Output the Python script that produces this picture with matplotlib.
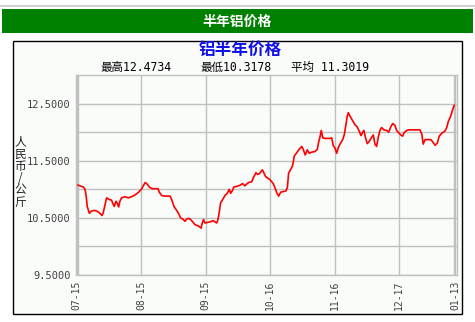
import matplotlib
matplotlib.use("Agg")
import matplotlib.pyplot as plt
from matplotlib.patches import Rectangle
from matplotlib.ticker import FixedLocator, NullFormatter

plt.rcParams["font.family"] = ["DejaVu Sans Mono", "Noto Sans CJK SC"]

# ---- 数据 ----
days = [0, 1.6, 3.2, 4.0, 4.5, 5.1, 6.1, 7.2, 8.3, 9.6, 10.9, 12.2, 12.8, 13.5, 14.4,
        15.7, 16.8, 17.3, 18.1, 18.9, 19.5, 20.2, 20.8, 21.6, 23.2, 24.8, 26.4, 27.5,
        28.8, 30.1, 31.3, 32.0, 33.0, 33.9, 35.2, 36.5, 39.2, 39.7, 40.9, 42.5, 44.9,
        45.7, 46.8, 47.7, 48.8, 50.0, 51.3, 52.1, 52.9, 54.0, 54.8, 55.8, 56.9, 58.5,
        59.8, 60.4, 61.0, 61.7, 62.8, 64.1, 65.7, 66.5, 67.3, 67.8, 68.4, 69.2, 70.2,
        71.3, 72.4, 73.4, 74.0, 74.8, 75.6, 76.9, 78.5, 79.8, 80.9, 82.0, 82.8, 84.1,
        85.2, 86.2, 87.0, 87.8, 89.3, 90.9, 92.9, 94.5, 95.3, 96.2, 97.1, 98.1, 99.3,
        100.6, 101.3, 101.9, 102.9, 103.8, 104.6, 105.8, 107.0, 108.2, 108.9, 109.9,
        110.9, 111.8, 113.0, 114.6, 115.7, 116.3, 117.0, 117.6, 118.3, 119.4, 121.8,
        122.6, 123.4, 124.2, 125.0, 125.8, 126.6, 127.9, 128.7, 129.5, 130.1, 130.6,
        131.4, 132.7, 133.8, 134.9, 135.9, 136.7, 137.5, 138.1, 138.8, 139.7, 140.7,
        141.8, 142.6, 143.4, 144.2, 145.0, 145.8, 146.6, 147.7, 149.0, 150.0, 151.0,
        151.9, 153.0, 153.8, 154.8, 155.8, 156.7, 157.4, 158.3, 159.4, 165.0, 165.9,
        166.6, 167.5, 170.2, 171.2, 172.3, 173.4, 174.3, 175.5, 177.1, 177.9, 178.7,
        179.8, 180.8, 181.5]
prices = [11.08, 11.06, 11.04, 11.00, 10.91, 10.70, 10.58, 10.62, 10.63, 10.62, 10.59,
          10.54, 10.59, 10.70, 10.85, 10.82, 10.81, 10.76, 10.70, 10.79, 10.76, 10.69,
          10.79, 10.85, 10.87, 10.85, 10.87, 10.89, 10.92, 10.96, 11.01, 11.06, 11.12,
          11.09, 11.03, 11.01, 11.01, 10.95, 10.89, 10.88, 10.88, 10.82, 10.70, 10.65,
          10.59, 10.50, 10.47, 10.44, 10.48, 10.49, 10.47, 10.43, 10.38, 10.36, 10.32,
          10.41, 10.47, 10.41, 10.42, 10.43, 10.45, 10.43, 10.41, 10.45, 10.56, 10.76,
          10.82, 10.89, 10.93, 11.00, 10.93, 10.97, 11.04, 11.05, 11.07, 11.10, 11.06,
          11.10, 11.12, 11.13, 11.22, 11.29, 11.26, 11.27, 11.34, 11.22, 11.17, 11.10,
          11.03, 10.94, 10.88, 10.95, 10.96, 10.97, 11.03, 11.28, 11.35, 11.41, 11.58,
          11.64, 11.70, 11.75, 11.70, 11.60, 11.69, 11.63, 11.65, 11.66, 11.70, 11.82,
          11.92, 12.03, 11.90, 11.89, 11.89, 11.90, 11.76, 11.72, 11.63, 11.73, 11.79,
          11.87, 11.96, 12.14, 12.28, 12.34, 12.28, 12.20, 12.13, 12.09, 12.01, 11.94,
          12.00, 12.03, 11.91, 11.80, 11.84, 11.91, 11.95, 11.79, 11.75, 11.91, 12.03,
          12.08, 12.04, 12.03, 12.00, 12.09, 12.15, 12.12, 12.03, 11.99, 11.95, 11.93,
          11.99, 12.02, 12.04, 12.04, 11.97, 11.79, 11.87, 11.87, 11.83, 11.77, 11.81,
          11.93, 11.98, 12.02, 12.08, 12.19, 12.28, 12.40, 12.47]
tick_days = [0, 31, 62, 93, 124, 155, 182]
tick_labels = ["07-15", "08-15", "09-15", "10-16", "11-16", "12-17", "01-13"]
y_labels = [9.5, 10.5, 11.5, 12.5]
y_grid = [10.0, 11.0, 12.0]
stats = [("最高", "12.4734"), ("最低", "10.3178"), ("平均 ", "11.3019")]

GRID = "#C0C0C0"
BG = "#FAFCFA"

fig = plt.figure(figsize=(4.75, 3.22), dpi=100)
fig.patch.set_facecolor("white")

# ---- 页面框架 (像素坐标) ----
bg = fig.add_axes([0, 0, 1, 1])
bg.set_xlim(0, 475)
bg.set_ylim(322, 0)
bg.axis("off")
bg.plot([0, 475], [6, 6], color="#C8C8C8", lw=1.2)
bg.add_patch(Rectangle((2, 9), 471, 24, facecolor="#008000", edgecolor="none"))
bg.text(237, 21.5, "半年铝价格", color="white", fontsize=10, fontweight="bold",
        family="Noto Sans CJK SC", ha="center", va="center")
bg.add_patch(Rectangle((12.5, 40.5), 449.5, 273.5, facecolor=BG, edgecolor="black", lw=1))
bg.text(240, 50, "铝半年价格", color="#1010E8", fontsize=12, fontweight="bold",
        family="Noto Sans CJK SC", ha="center", va="center")
for (name, val), x0 in zip(stats, [100, 200, 291]):
    bg.text(x0, 67, name + val, fontsize=8.3, color="black", ha="left", va="center")
bg.text(20, 172, "人\n民\n币\n/\n公\n斤", fontsize=8.5, color="#202020",
        family="Noto Sans CJK SC", ha="center", va="center", linespacing=0.9)

# ---- 曲线 ----
ax = fig.add_axes([76 / 475, (322 - 275) / 322, 380.5 / 475, 200 / 322])
ax.set_facecolor(BG)
ax.plot(days, prices, color="#FF0000", lw=1.2)
ax.set_xlim(-0.3, 182.6)
ax.set_ylim(9.5, 13.0)

ax.xaxis.set_major_locator(FixedLocator(tick_days))
ax.set_xticklabels(tick_labels, rotation=90, fontsize=7, color="#404040")
ax.yaxis.set_major_locator(FixedLocator(y_labels))
ax.set_yticklabels([f"{v:.4f}" for v in y_labels], fontsize=7.5, color="#404040")
ax.yaxis.set_minor_locator(FixedLocator(y_grid))
ax.yaxis.set_minor_formatter(NullFormatter())
ax.tick_params(which="both", length=0, pad=4)
ax.grid(True, which="both", color=GRID, lw=1)
ax.set_axisbelow(True)
for s in ax.spines.values():
    s.set_color(GRID)
    s.set_linewidth(1)
ax.axvline(0.8, color=GRID, lw=1, zorder=0)
ax.axvline(181.6, color=GRID, lw=1, zorder=0)

fig.savefig("out.png", dpi=100)
